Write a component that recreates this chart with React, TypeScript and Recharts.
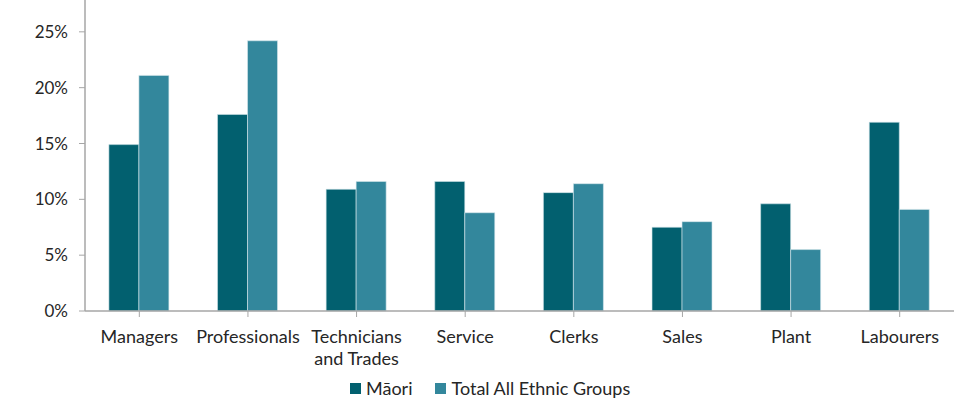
import { BarChart, Bar, XAxis, YAxis, Legend } from "recharts";

const categories = [
  "Managers",
  "Professionals",
  "Technicians and Trades",
  "Service",
  "Clerks",
  "Sales",
  "Plant",
  "Labourers",
];
const maori = [14.9, 17.6, 10.9, 11.6, 10.6, 7.5, 9.6, 16.9];
const totalAll = [21.1, 24.2, 11.6, 8.8, 11.4, 8.0, 5.5, 9.1];
const yTicks = [0, 5, 10, 15, 20, 25];

const data = categories.map((c, i) => ({
  name: c,
  maori: maori[i],
  total: totalAll[i],
}));

const FONT = "Lato, 'Open Sans', sans-serif";
const AXIS = "#a6a6a6";
const TEXT = "#262626";
const COLORS = { maori: "#02606f", total: "#33879c" };

function CategoryTick(props: any) {
  const { x, y, payload } = props;
  const label: string = payload.value;
  const idx = label.indexOf(" and ");
  const lines = idx > 0 ? [label.slice(0, idx), label.slice(idx + 1)] : [label];
  return (
    <text x={x} y={y + 24} textAnchor="middle" fill={TEXT} fontSize={18} fontFamily={FONT}>
      {lines.map((l, i) => (
        <tspan key={i} x={x} dy={i === 0 ? 0 : 22}>
          {l}
        </tspan>
      ))}
    </text>
  );
}

function LegendContent() {
  const items = [
    { label: "Māori", color: COLORS.maori },
    { label: "Total All Ethnic Groups", color: COLORS.total },
  ];
  return (
    <div style={{ display: "flex", paddingLeft: 350, fontFamily: FONT, fontSize: 18, color: TEXT }}>
      {items.map((it) => (
        <div key={it.label} style={{ display: "flex", alignItems: "center", marginRight: 23 }}>
          <span style={{ width: 11, height: 11, background: it.color, marginRight: 5, display: "inline-block" }} />
          <span>{it.label}</span>
        </div>
      ))}
    </div>
  );
}

export default function App() {
  return (
    <div
      style={{
        position: "absolute",
        left: 0,
        top: 0,
        width: 969,
        height: 403,
        overflow: "hidden",
        background: "#fff",
      }}
    >
      <div style={{ position: "absolute", left: 0, top: -34 }}>
        <BarChart
          width={969}
          height={437}
          data={data}
          margin={{ top: 10, right: 15, left: 0, bottom: 0 }}
          barCategoryGap="22%"
          barGap={0}
        >
          <XAxis
            dataKey="name"
            interval={0}
            height={70}
            tickLine={{ stroke: AXIS }}
            axisLine={{ stroke: AXIS, strokeWidth: 1.5 }}
            tickSize={6}
            tick={<CategoryTick />}
          />
          <YAxis
            width={85}
            domain={[0, 30]}
            ticks={yTicks}
            tickFormatter={(v: number) => `${v}%`}
            axisLine={{ stroke: AXIS, strokeWidth: 1.5 }}
            tickLine={{ stroke: AXIS }}
            tickSize={6}
            tickMargin={11}
            tick={{ fill: TEXT, fontSize: 17, fontFamily: FONT }}
          />
          <Legend
            verticalAlign="bottom"
            align="left"
            content={<LegendContent />}
            wrapperStyle={{ bottom: 4, left: 0, width: 969 }}
          />
          <Bar
            dataKey="maori"
            name="Māori"
            fill={COLORS.maori}
            stroke="#cfe3e7"
            strokeWidth={0.6}
            isAnimationActive={false}
          />
          <Bar
            dataKey="total"
            name="Total All Ethnic Groups"
            fill={COLORS.total}
            stroke="#d6e8ec"
            strokeWidth={0.6}
            isAnimationActive={false}
          />
        </BarChart>
      </div>
    </div>
  );
}
